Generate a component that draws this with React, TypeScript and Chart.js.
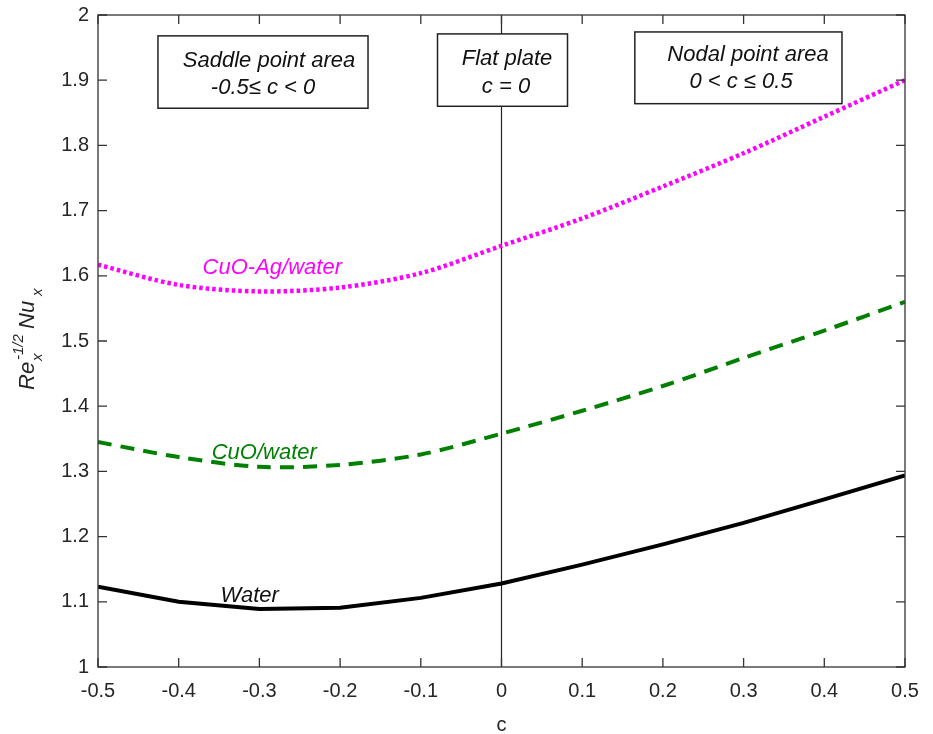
import { useEffect, useRef } from "react";
import { Chart, registerables } from "chart.js";

Chart.register(...registerables);

// ---- data ----
const cValues = [-0.5, -0.4, -0.3, -0.2, -0.1, 0, 0.1, 0.2, 0.3, 0.4, 0.5];
const waterValues = [1.123, 1.1, 1.089, 1.091, 1.106, 1.128, 1.157, 1.188, 1.221, 1.257, 1.294];
const cuoValues = [1.345, 1.322, 1.307, 1.31, 1.326, 1.358, 1.393, 1.431, 1.474, 1.516, 1.56];
const cuoAgValues = [1.617, 1.586, 1.576, 1.582, 1.604, 1.646, 1.688, 1.737, 1.788, 1.844, 1.9];

const xTickValues = [-0.5, -0.4, -0.3, -0.2, -0.1, 0, 0.1, 0.2, 0.3, 0.4, 0.5];
const xTickLabels = ["-0.5", "-0.4", "-0.3", "-0.2", "-0.1", "0", "0.1", "0.2", "0.3", "0.4", "0.5"];
const yTickValues = [1, 1.1, 1.2, 1.3, 1.4, 1.5, 1.6, 1.7, 1.8, 1.9, 2];
const yTickLabels = ["1", "1.1", "1.2", "1.3", "1.4", "1.5", "1.6", "1.7", "1.8", "1.9", "2"];

const seriesNames = ["Water", "CuO/water", "CuO-Ag/water"];
const regionTitles = ["Saddle point area", "Flat plate", "Nodal point area"];
const regionRanges = ["-0.5\u2264 c < 0", "c = 0", "0 < c \u2264 0.5"];
const xAxisTitle = "c";

const FONT = "'Liberation Sans', Arial, Helvetica, sans-serif";

// annotation placement in data coordinates
const boxes = [
  { x0: -0.4257, x1: -0.1654, y0: 1.968, y1: 1.857, cx1: -0.288, cx2: -0.2955, ty1: 1.92, ty2: 1.879 },
  { x0: -0.0793, x1: 0.0818, y0: 1.971, y1: 1.86, cx1: 0.0068, cx2: 0.0056, ty1: 1.923, ty2: 1.881 },
  { x0: 0.1652, x1: 0.4219, y0: 1.974, y1: 1.864, cx1: 0.3055, cx2: 0.2968, ty1: 1.929, ty2: 1.888 },
];
const curveLabelPos = [
  { x: -0.312, y: 1.0997, color: "#111111" },
  { x: -0.294, y: 1.319, color: "#008000" },
  { x: -0.284, y: 1.603, color: "#ff00ff" },
];

const decorPlugin = {
  id: "decor",
  beforeDatasetsDraw(chart: any) {
    const { ctx, chartArea, scales } = chart;
    const x0 = scales.x.getPixelForValue(0);
    ctx.save();
    ctx.strokeStyle = "#222";
    ctx.lineWidth = 1.2;
    ctx.beginPath();
    ctx.moveTo(x0, chartArea.top);
    ctx.lineTo(x0, chartArea.bottom);
    ctx.stroke();
    ctx.restore();
  },
  afterDatasetsDraw(chart: any) {
    const { ctx, chartArea, scales } = chart;
    const xs = scales.x;
    const ys = scales.y;
    const { left, right, top, bottom } = chartArea;
    ctx.save();
    // axes box
    ctx.strokeStyle = "#333";
    ctx.lineWidth = 1.3;
    ctx.strokeRect(left, top, right - left, bottom - top);
    // inside ticks
    const tl = 9;
    ctx.beginPath();
    xTickValues.forEach((v) => {
      const px = xs.getPixelForValue(v);
      ctx.moveTo(px, bottom);
      ctx.lineTo(px, bottom - tl);
      ctx.moveTo(px, top);
      ctx.lineTo(px, top + tl);
    });
    yTickValues.forEach((v) => {
      const py = ys.getPixelForValue(v);
      ctx.moveTo(left, py);
      ctx.lineTo(left + tl, py);
      ctx.moveTo(right, py);
      ctx.lineTo(right - tl, py);
    });
    ctx.stroke();

    // annotation boxes
    boxes.forEach((b, i) => {
      const bx0 = xs.getPixelForValue(b.x0);
      const bx1 = xs.getPixelForValue(b.x1);
      const by0 = ys.getPixelForValue(b.y0);
      const by1 = ys.getPixelForValue(b.y1);
      ctx.fillStyle = "#ffffff";
      ctx.fillRect(bx0, by0, bx1 - bx0, by1 - by0);
      ctx.strokeStyle = "#222";
      ctx.lineWidth = 1.5;
      ctx.strokeRect(bx0, by0, bx1 - bx0, by1 - by0);
      ctx.fillStyle = "#111";
      ctx.font = `italic 22px ${FONT}`;
      ctx.textAlign = "center";
      ctx.textBaseline = "alphabetic";
      ctx.fillText(regionTitles[i], xs.getPixelForValue(b.cx1), ys.getPixelForValue(b.ty1));
      ctx.fillText(regionRanges[i], xs.getPixelForValue(b.cx2), ys.getPixelForValue(b.ty2));
    });

    // curve labels
    curveLabelPos.forEach((p, i) => {
      ctx.fillStyle = p.color;
      ctx.font = `italic 22px ${FONT}`;
      ctx.textAlign = "center";
      ctx.textBaseline = "alphabetic";
      ctx.fillText(seriesNames[i], xs.getPixelForValue(p.x), ys.getPixelForValue(p.y));
    });

    // x axis title
    ctx.fillStyle = "#262626";
    ctx.font = `20px ${FONT}`;
    ctx.textAlign = "center";
    ctx.textBaseline = "alphabetic";
    ctx.fillText(xAxisTitle, (left + right) / 2, 731);

    // y axis title Re_x^{-1/2} Nu_x (rotated)
    const midY = (top + bottom) / 2;
    ctx.translate(34, midY + 49);
    ctx.rotate(-Math.PI / 2);
    ctx.textAlign = "left";
    ctx.font = `italic 22px ${FONT}`;
    ctx.fillText("Re", 0, 0);
    ctx.font = `italic 15px ${FONT}`;
    ctx.fillText("x", 29, 8);
    ctx.fillText("-1/2", 30, -11);
    ctx.font = `italic 22px ${FONT}`;
    ctx.fillText("Nu", 61, 0);
    ctx.font = `italic 15px ${FONT}`;
    ctx.fillText("x", 94, 8);
    ctx.restore();
  },
};

export default function App() {
  const ref = useRef<HTMLCanvasElement | null>(null);
  useEffect(() => {
    document.body.style.margin = "0";
    const canvas = ref.current;
    if (!canvas) return;
    const toPts = (vals: number[]) => cValues.map((c, i) => ({ x: c, y: vals[i] }));
    const chart = new Chart(canvas, {
      type: "line",
      data: {
        datasets: [
          {
            label: seriesNames[0],
            data: toPts(waterValues),
            borderColor: "#000000",
            borderWidth: 4,
            pointRadius: 0,
            tension: 0,
            fill: false,
          },
          {
            label: seriesNames[1],
            data: toPts(cuoValues),
            borderColor: "#008000",
            borderWidth: 4,
            borderDash: [14, 9],
            pointRadius: 0,
            tension: 0.3,
            fill: false,
          },
          {
            label: seriesNames[2],
            data: toPts(cuoAgValues),
            borderColor: "#ff00ff",
            borderWidth: 4.5,
            borderDash: [3.5, 3],
            pointRadius: 0,
            tension: 0.3,
            fill: false,
          },
        ],
      },
      options: {
        animation: false,
        responsive: false,
        maintainAspectRatio: false,
        layout: { padding: { top: 15, right: 28, left: 0, bottom: 0 } },
        plugins: { legend: { display: false }, tooltip: { enabled: false } },
        scales: {
          x: {
            type: "linear",
            min: -0.5,
            max: 0.5,
            afterBuildTicks: (s: any) => {
              s.ticks = xTickValues.map((v) => ({ value: v }));
            },
            afterFit: (s: any) => {
              s.height = 67;
              s.paddingLeft = 0;
              s.paddingRight = 0;
            },
            ticks: {
              autoSkip: false,
              maxRotation: 0,
              padding: 12,
              color: "#262626",
              font: { family: FONT, size: 20 },
              callback: (_v: any, i: number) => xTickLabels[i],
            },
            grid: { display: false, drawTicks: false },
            border: { display: false },
          },
          y: {
            type: "linear",
            min: 1,
            max: 2,
            afterBuildTicks: (s: any) => {
              s.ticks = yTickValues.map((v) => ({ value: v }));
            },
            afterFit: (s: any) => {
              s.width = 98;
              s.paddingTop = 0;
              s.paddingBottom = 0;
            },
            ticks: {
              autoSkip: false,
              padding: 9,
              color: "#262626",
              font: { family: FONT, size: 20 },
              callback: (_v: any, i: number) => yTickLabels[i],
            },
            grid: { display: false, drawTicks: false },
            border: { display: false },
          },
        },
      },
      plugins: [decorPlugin],
    });
    return () => chart.destroy();
  }, []);
  return (
    <div style={{ width: 933, height: 734, background: "#fff" }}>
      <canvas ref={ref} width={933} height={734} style={{ display: "block" }} />
    </div>
  );
}
